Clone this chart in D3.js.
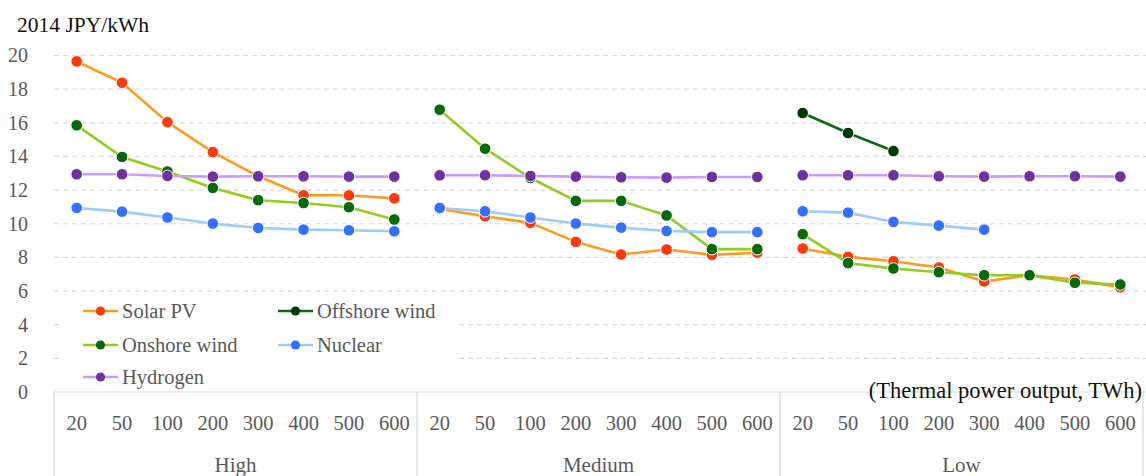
<!DOCTYPE html>
<html>
<head>
<meta charset="utf-8">
<script src="https://cdn.jsdelivr.net/npm/d3@7"></script>
<style>
  html, body { margin: 0; padding: 0; background: #fff; }
  svg { display: block; }
  text { font-family: "Liberation Serif", "DejaVu Serif", serif; }
</style>
</head>
<body>
<svg id="chart" width="1146" height="476"></svg>
<script>
// Scenario groups and thermal output levels (TWh)
const groups = ["High", "Medium", "Low"];
const outputs = ["20", "50", "100", "200", "300", "400", "500", "600"];
const yTicks = [0, 2, 4, 6, 8, 10, 12, 14, 16, 18, 20];

// Generation cost, 2014 JPY/kWh, per group (8 output levels each)
const solarPV = [
  [19.65, 18.38, 16.04, 14.26, 12.82, 11.69, 11.69, 11.51],
  [10.88, 10.45, 10.05, 8.92, 8.17, 8.47, 8.15, 8.28],
  [8.53, 8.03, 7.77, 7.40, 6.57, 6.94, 6.69, 6.22]
];
const offshoreWind = [
  [null, null, null, null, null, null, null, null],
  [null, null, null, null, null, null, null, null],
  [16.58, 15.39, 14.32, null, null, null, null, null]
];
const onshoreWind = [
  [15.85, 13.97, 13.10, 12.13, 11.40, 11.23, 10.98, 10.25],
  [16.78, 14.46, 12.72, 11.36, 11.36, 10.49, 8.49, 8.49],
  [9.38, 7.66, 7.34, 7.12, 6.94, 6.94, 6.49, 6.39]
];
const nuclear = [
  [10.94, 10.72, 10.37, 10.01, 9.75, 9.65, 9.61, 9.55],
  [10.94, 10.74, 10.37, 10.01, 9.77, 9.57, 9.50, 9.50],
  [10.74, 10.66, 10.11, 9.89, 9.65, null, null, null]
];
const hydrogen = [
  [12.94, 12.94, 12.84, 12.80, 12.82, 12.82, 12.80, 12.80],
  [12.88, 12.88, 12.84, 12.80, 12.76, 12.74, 12.78, 12.78],
  [12.88, 12.88, 12.88, 12.82, 12.80, 12.82, 12.82, 12.80]
];

const seriesNames = ["Solar PV", "Offshore wind", "Onshore wind", "Nuclear", "Hydrogen"];
const seriesValues = [solarPV, offshoreWind, onshoreWind, nuclear, hydrogen];
const lineColors = ["#FF9A1F", "#0B6B12", "#92CC1E", "#9CCBFF", "#CC99FF"];
const markerColors = ["#FF3A0A", "#013A04", "#066A0A", "#3470FF", "#7030A0"];

const svg = d3.select("#chart");
const W = 1146, H = 476;
const plotLeft = 54, plotRight = 1143;
const yBottom = 392, yTop = 55.5;

const slots = [];
groups.forEach(g => outputs.forEach(o => slots.push(g + "|" + o)));

const x = d3.scaleBand().domain(slots).range([plotLeft, plotRight]).padding(0);
const xGroup = d3.scaleBand().domain(groups).range([plotLeft, plotRight]).padding(0);
const y = d3.scaleLinear().domain([0, 20]).range([yBottom, yTop]);

// Horizontal dashed gridlines
svg.append("g")
  .selectAll("line")
  .data(yTicks.filter(t => t > 0))
  .join("line")
  .attr("x1", plotLeft).attr("x2", W)
  .attr("y1", d => y(d)).attr("y2", d => y(d))
  .attr("stroke", "#D9D9D9")
  .attr("stroke-width", 1.2)
  .attr("stroke-dasharray", "5,4");

// Y axis tick labels
const yAxis = d3.axisLeft(y).tickValues(yTicks).tickSize(0).tickPadding(0);
const yg = svg.append("g").attr("transform", `translate(28,0)`).call(yAxis);
yg.select(".domain").remove();
yg.selectAll("text")
  .attr("fill", "#595959")
  .style("font-size", "20px")
  .style("font-family", "'Liberation Serif', serif");

// Axis title
svg.append("text")
  .attr("x", 17).attr("y", 32)
  .attr("fill", "#111")
  .style("font-size", "21.5px")
  .text("2014 JPY/kWh");

// Category axis: baseline, group separators, labels
svg.append("line")
  .attr("x1", plotLeft).attr("x2", W)
  .attr("y1", yBottom).attr("y2", yBottom)
  .attr("stroke", "#D9D9D9").attr("stroke-width", 1.2);

const sepX = groups.map(g => xGroup(g)).concat([plotRight]);
svg.append("g")
  .selectAll("line")
  .data(sepX)
  .join("line")
  .attr("x1", d => d).attr("x2", d => d)
  .attr("y1", yBottom).attr("y2", H)
  .attr("stroke", "#D9D9D9").attr("stroke-width", 1.2);

const xAxis = d3.axisBottom(x).tickSize(0).tickPadding(0).tickFormat(d => d.split("|")[1]);
const xg = svg.append("g").attr("transform", `translate(0,415)`).call(xAxis);
xg.select(".domain").remove();
xg.selectAll("text")
  .attr("fill", "#595959")
  .style("font-size", "20.5px")
  .style("font-family", "'Liberation Serif', serif");

svg.append("g")
  .selectAll("text")
  .data(groups)
  .join("text")
  .attr("x", d => xGroup(d) + xGroup.bandwidth() / 2)
  .attr("y", 472)
  .attr("text-anchor", "middle")
  .attr("fill", "#595959")
  .style("font-size", "21px")
  .text(d => d);

// Series: lines broken at group boundaries, then markers
const cx = (gi, oi) => x(groups[gi] + "|" + outputs[oi]) + x.bandwidth() / 2;
const line = d3.line()
  .defined(d => d.v !== null)
  .x(d => d.x)
  .y(d => y(d.v));

seriesValues.forEach((grp, si) => {
  const g = svg.append("g");
  grp.forEach((vals, gi) => {
    const pts = vals.map((v, oi) => ({ x: cx(gi, oi), v }));
    g.append("path")
      .datum(pts)
      .attr("d", line)
      .attr("fill", "none")
      .attr("stroke", lineColors[si])
      .attr("stroke-width", 2.6)
      .attr("stroke-linejoin", "round");
    g.selectAll(null)
      .data(pts.filter(p => p.v !== null))
      .join("circle")
      .attr("cx", p => p.x)
      .attr("cy", p => y(p.v))
      .attr("r", 5.8)
      .attr("fill", markerColors[si])
      .attr("stroke", "#fff")
      .attr("stroke-width", 1);
  });
});

// Legend on a white panel
const legend = svg.append("g");
legend.append("rect")
  .attr("x", 62).attr("y", 296).attr("width", 394).attr("height", 95)
  .attr("fill", "#fff");
const legendPos = [
  [83, 311], [278, 311], [83, 345], [278, 345], [83, 377]
];
seriesNames.forEach((name, i) => {
  const [lx, ly] = legendPos[i];
  const e = legend.append("g").attr("transform", `translate(${lx},${ly})`);
  e.append("line").attr("x1", 0).attr("x2", 35).attr("y1", 0).attr("y2", 0)
    .attr("stroke", lineColors[i]).attr("stroke-width", 2.6);
  e.append("circle").attr("cx", 17.5).attr("cy", 0).attr("r", 4.6)
    .attr("fill", markerColors[i]);
  e.append("text").attr("x", 39).attr("y", 7)
    .attr("fill", "#595959")
    .style("font-size", "20.5px")
    .text(name);
});

// Unit note for the category axis
svg.append("text")
  .attr("x", 1142).attr("y", 398)
  .attr("text-anchor", "end")
  .attr("fill", "#111")
  .style("font-size", "22.5px")
  .text("(Thermal power output, TWh)");
</script>
</body>
</html>
